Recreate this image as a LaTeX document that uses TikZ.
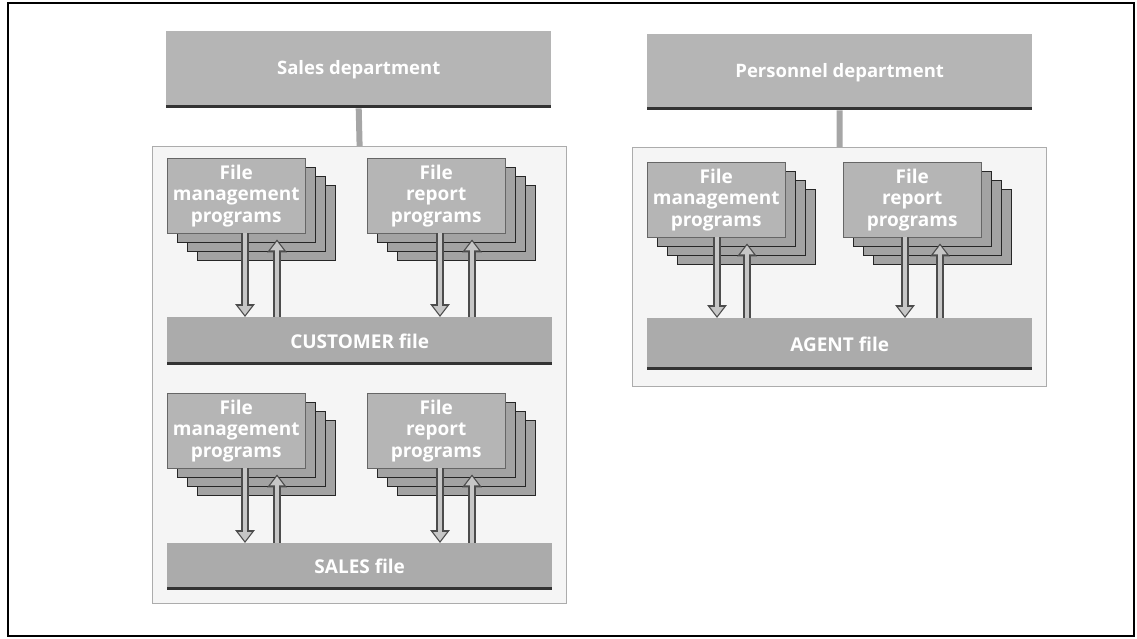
\documentclass[tikz,border=0pt]{standalone}
\usepackage{fontspec}
\setmainfont{Open Sans}
\usetikzlibrary{arrows.meta,calc}
\newcommand\progstack[4]{%
  \node[backcopy] (#1c) at (#2+30,#3+27) {};
  \node[backcopy] (#1b) at (#2+20,#3+18) {};
  \node[backcopy] (#1a) at (#2+10,#3+9) {};
  \node[prog] (#1) at (#2,#3) {#4};
}
\newcommand\flowpair[4]{% stack, file, xoffset of down arrow, gap to up arrow
  \draw[flowdark] ([xshift=#3pt]#1.south west) -- ([xshift=#3pt]#1.south west |- #2.north);
  \draw[flow] ([xshift=#3pt]#1.south west) -- ([xshift=#3pt,yshift=2pt]#1.south west |- #2.north);
  \draw[flowdark] ([xshift=#3pt+#4pt]#1.south west |- #2.north) -- ([xshift=#3pt+#4pt,yshift=-6pt]#1.south west);
  \draw[flow] ([xshift=#3pt+#4pt]#1.south west |- #2.north) -- ([xshift=#3pt+#4pt,yshift=-8pt]#1.south west);
}
\begin{document}
\begin{tikzpicture}[x=1pt,y=-1pt,
  dept/.style={fill=gray!58, text=white, font=\bfseries\fontsize{18.5}{21}\selectfont,
    minimum width=385pt, minimum height=77pt, inner sep=0pt, anchor=north west},
  cont/.style={draw=gray!65, line width=1.2pt, fill=gray!8, anchor=north west, inner sep=0pt},
  prog/.style={fill=gray!58, draw=black!60, text=white, align=center,
    font=\bfseries\fontsize{19}{21.5}\selectfont,
    minimum width=138pt, minimum height=75pt, inner sep=0pt, anchor=north west},
  backcopy/.style={fill=gray!72, draw=black!85, line width=0.8pt,
    minimum width=138pt, minimum height=75pt, anchor=north west, inner sep=0pt},
  filebox/.style={fill=gray!66, text=white, font=\bfseries\fontsize{19}{21}\selectfont,
    minimum width=385pt, inner sep=0pt, anchor=north west},
  link/.style={draw=gray!70, line width=6pt},
  flowdark/.style={draw=black!70, line width=7.5pt, -{Triangle[width=19pt,length=13pt]}},
  flow/.style={draw=gray!45, line width=4pt, -{Triangle[width=13pt,length=9pt]}},
  edge/.style={line width=3.5pt, draw=black!80},
]
\useasboundingbox (0,0) rectangle (1137,639);
\draw[line width=1.5pt] (8,3) rectangle (1134,636);

% ---------- left column ----------
\node[cont, minimum width=414pt, minimum height=457pt] (leftc) at (152,146) {};
\node[dept] (sales) at (166,31) {Sales department};
\draw[edge] ([yshift=1.75pt]sales.south west) -- ([yshift=1.75pt]sales.south east);
\draw[link] (sales.south) -- (leftc.north);

\progstack{m1}{167}{158}{File\\management\\programs}
\progstack{r1}{367}{158}{File\\report\\programs}
\node[filebox, minimum height=48pt] (cust) at (167,317) {CUSTOMER file};
\draw[edge] ([yshift=1.75pt]cust.south west) -- ([yshift=1.75pt]cust.south east);
\flowpair{m1}{cust}{78}{32}
\flowpair{r1}{cust}{73}{32}

\progstack{m2}{167}{393}{File\\management\\programs}
\progstack{r2}{367}{393}{File\\report\\programs}
\node[filebox, minimum height=47pt] (salesf) at (167,543) {SALES file};
\draw[edge] ([yshift=1.75pt]salesf.south west) -- ([yshift=1.75pt]salesf.south east);
\flowpair{m2}{salesf}{78}{32}
\flowpair{r2}{salesf}{73}{32}

% ---------- right column ----------
\node[cont, minimum width=414pt, minimum height=239pt] (rightc) at (632,147) {};
\node[dept, minimum height=76pt] (pers) at (647,34) {Personnel department};
\draw[edge] ([yshift=1.75pt]pers.south west) -- ([yshift=1.75pt]pers.south east);
\draw[link] (pers.south) -- (rightc.north);

\progstack{m3}{647}{162}{File\\management\\programs}
\progstack{r3}{843}{162}{File\\report\\programs}
\node[filebox, minimum height=52pt] (agent) at (647,318) {AGENT file};
\draw[edge] ([yshift=1.75pt]agent.south west) -- ([yshift=1.75pt]agent.south east);
\flowpair{m3}{agent}{70}{30}
\flowpair{r3}{agent}{62}{35}
\end{tikzpicture}
\end{document}
